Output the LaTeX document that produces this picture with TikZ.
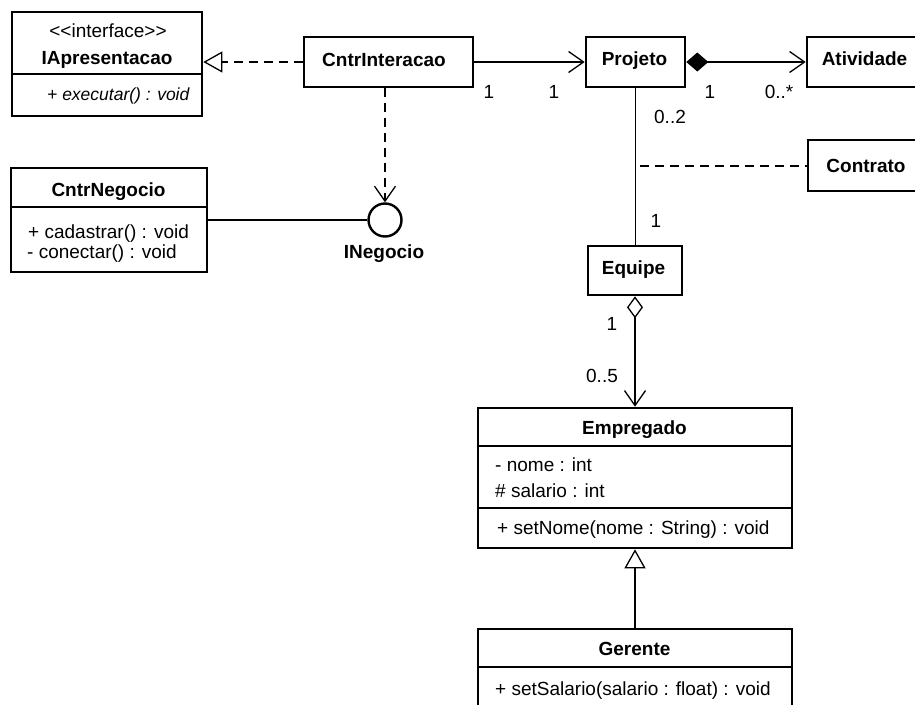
\documentclass[tikz,border=0pt]{standalone}
\usepackage{fontspec}
\setmainfont{Liberation Sans}
\usetikzlibrary{arrows.meta}
\begin{document}
\begin{tikzpicture}[x=1pt,y=-1pt,
  cls/.style={draw=black, line width=2.6pt, inner sep=0pt, fill=white},
  txt/.style={inner sep=0pt, anchor=base, font=\fontsize{19}{22}\selectfont},
  ltxt/.style={inner sep=0pt, anchor=base west, font=\fontsize{19}{22}\selectfont},
  nm/.style={txt, font=\fontsize{19}{22}\selectfont\bfseries},
  divider/.style={line width=1.3pt},
  conn/.style={line width=1.3pt},
  dsh/.style={dash pattern=on 9pt off 6pt},
  barb/.style={-{Straight Barb[length=15pt,width=21pt,line width=1.3pt]}},
  realz/.style={-{Triangle[open,length=19pt,width=21pt,line width=1.3pt]}},
  mult/.style={txt}]
\useasboundingbox (0,0) rectangle (915,704);
\fill[white] (0,0) rectangle (915,704);
\clip (0,0) rectangle (915,704);

% class boxes
\node[cls, minimum width=190pt, minimum height=104pt] (iap) at (107,64) {};
\node[cls, minimum width=169pt, minimum height=50pt] (cint) at (388.5,62) {};
\node[cls, minimum width=196pt, minimum height=104pt] (cneg) at (109,220) {};
\node[cls, minimum width=99pt, minimum height=50pt] (proj) at (635.5,62) {};
\node[cls, minimum width=115pt, minimum height=50pt] (ativ) at (864.5,62) {};
\node[cls, minimum width=116pt, minimum height=51pt] (cont) at (866,165.5) {};
\node[cls, minimum width=94pt, minimum height=49pt] (equi) at (635,270.5) {};
\node[cls, minimum width=314pt, minimum height=140pt] (empr) at (635,478) {};
\node[cls, minimum width=314pt, minimum height=80pt] (gere) at (635,669) {};
\node[draw=black, circle, line width=2.4pt, minimum size=33pt, inner sep=0pt] (ineg) at (385,220) {};

% dividers
\draw[divider] (iap.west |- 0,74) -- (iap.east |- 0,74);
\draw[divider] (cneg.west |- 0,207) -- (cneg.east |- 0,207);
\draw[divider] (empr.west |- 0,446) -- (empr.east |- 0,446);
\draw[divider] (empr.west |- 0,508) -- (empr.east |- 0,508);
\draw[divider] (gere.west |- 0,667) -- (gere.east |- 0,667);

% texts
\node[txt] (t1) at (108,37) {<\kern0pt<interface>\kern0pt>};
\node[nm] (t2) at (107,64) {IApresentacao};
\node[ltxt, font=\fontsize{17.5}{22}\selectfont\itshape] (t3) at (47,100) {+ executar() : void};
\node[nm] (t4) at (384,66) {CntrInteracao};
\node[nm] (t5) at (108.5,196) {CntrNegocio};
\node[ltxt] (t6) at (28,238) {+ cadastrar() : void};
\node[ltxt] (t7) at (27,258) {- conectar() : void};
\node[nm] (t8) at (384,258) {INegocio};
\node[nm] (t9) at (634.5,65) {Projeto};
\node[nm] (t10) at (864.5,65) {Atividade};
\node[nm] (t11) at (866,172) {Contrato};
\node[nm] (t12) at (633.5,274) {Equipe};
\node[nm] (t13) at (634.5,434) {Empregado};
\node[ltxt] (t14) at (495,471) {- nome : int};
\node[ltxt] (t15) at (495,497) {\# salario : int};
\node[ltxt] (t16) at (497,534) {+ setNome(nome : String) : void};
\node[nm] (t17) at (634.5,655) {Gerente};
\node[ltxt] (t18) at (495,695) {+ setSalario(salario : float) : void};

% multiplicities
\node[mult] (m1) at (489,98) {1};
\node[mult] (m2) at (554,98) {1};
\node[mult] (m3) at (710,98) {1};
\node[mult] (m4) at (779,98) {0..*};
\node[mult] (m5) at (670,123) {0..2};
\node[mult] (m6) at (656,227) {1};
\node[mult] (m7) at (612,330) {1};
\node[mult] (m8) at (602,382) {0..5};

% connectors
\draw[conn, dsh, realz] (cint.west) -- (iap.east |- cint.west);
\draw[conn, barb] (cint.east) -- (proj.west);
\draw[conn, {Diamond[length=22pt,width=19pt]}-{Straight Barb[length=15pt,width=21pt,line width=1.3pt]}] (proj.east) -- (ativ.west);
\draw[conn] (proj.south) -- (proj.south |- equi.north);
\coordinate (cc) at (640,166);
\draw[conn, dsh] (cc) -- (cont.west |- cc);
\draw[conn, {Diamond[open,length=22pt,width=16pt,line width=1.3pt]}-{Straight Barb[length=15pt,width=21pt,line width=1.3pt]}] (equi.south) -- (empr.north);
\draw[conn, realz] (gere.north) -- (empr.south);
\draw[conn] (cneg.east) -- (ineg.west);
\draw[conn, dsh, barb] (cint.south -| ineg.north) -- (ineg.north);
\end{tikzpicture}
\end{document}
